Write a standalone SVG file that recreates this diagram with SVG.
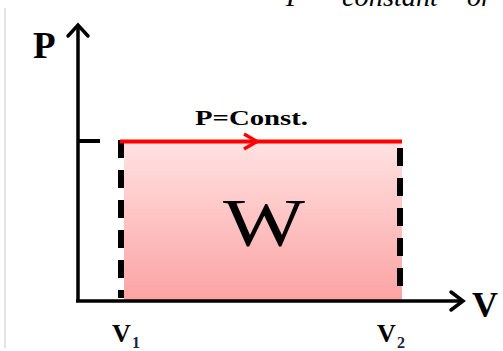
<svg xmlns="http://www.w3.org/2000/svg" width="503" height="351" viewBox="0 0 503 351">
<defs>
<linearGradient id="pink" x1="0" y1="0" x2="0" y2="1">
<stop offset="0" stop-color="#ffe2e2"/>
<stop offset="1" stop-color="#fca3a3"/>
</linearGradient>
<style>
.ax{stroke:#000;stroke-width:3.5;fill:none}
.head{stroke:#000;stroke-width:3.5;fill:none;stroke-linecap:round;stroke-linejoin:miter}
.dash{stroke:#000;stroke-width:6;stroke-dasharray:18 12;fill:none}
.lbl{font-family:"Liberation Serif","Times New Roman",serif;font-weight:bold;fill:#000}
.sub{font-family:"Liberation Serif","Times New Roman",serif;font-weight:bold;fill:#1a2540}
.top{font-family:"Liberation Serif","Times New Roman",serif;font-style:italic;fill:#000}
</style>
</defs>
<rect width="503" height="351" fill="#fff"/>
<line x1="5" y1="8" x2="5" y2="348" stroke="#e4e4e4" stroke-width="2"/>
<g id="top-text">
<text class="top" x="286" y="6" font-size="28">P</text>
<text class="top" x="342" y="6" font-size="28" textLength="96" lengthAdjust="spacingAndGlyphs">constant</text>
<text class="top" x="467" y="6" font-size="28">or</text>
</g>
<g id="work-area">
<rect x="124" y="142" width="278" height="159" fill="url(#pink)"/>
</g>
<g id="connectors">
<line class="ax" x1="78" y1="25" x2="78" y2="302"/>
<polyline class="head" points="68,36 78,25 88,36"/>
<line class="ax" x1="76" y1="301" x2="463" y2="301"/>
<polyline class="head" points="451,292 463,301 451,310"/>
<line x1="78" y1="141" x2="100" y2="141" stroke="#000" stroke-width="4"/>
<line class="dash" x1="121" y1="140" x2="121" y2="298" stroke-dashoffset="0"/>
<line class="dash" x1="400" y1="148" x2="400" y2="298"/>
<line x1="120" y1="141.5" x2="402" y2="141.5" stroke="#ff0000" stroke-width="4"/>
<polyline points="244,134 257,141.5 244,149" fill="none" stroke="#ff0000" stroke-width="3.5"/>
</g>
<g id="label-P"><text class="lbl" x="33" y="58" font-size="37">P</text></g>
<g id="label-V"><text class="lbl" x="472" y="317" font-size="36">V</text></g>
<g id="label-const"><text class="lbl" x="195" y="125" font-size="22" textLength="113" lengthAdjust="spacingAndGlyphs">P=Const.</text></g>
<g id="label-W"><text x="223" y="245" font-family="'Liberation Serif','Times New Roman',serif" font-size="68" textLength="82" lengthAdjust="spacingAndGlyphs">W</text></g>
<g id="label-V1"><text class="lbl" x="112" y="342" font-size="26">V</text><text class="sub" x="132" y="348" font-size="16">1</text></g>
<g id="label-V2"><text class="lbl" x="377" y="342" font-size="26">V</text><text class="sub" x="397" y="348" font-size="16">2</text></g>
</svg>
